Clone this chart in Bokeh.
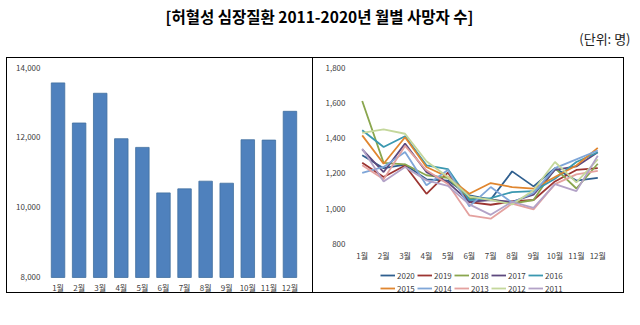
from bokeh.plotting import figure
from bokeh.layouts import column, row
from bokeh.models import Range1d, FixedTicker, NumeralTickFormatter, Legend, LegendItem
from bokeh.core.properties import value
from bokeh.embed import file_html
from bokeh.resources import INLINE

FONT = "Noto Sans CJK KR"

title = "[허혈성 심장질환 2011-2020년 월별 사망자 수]"
unit = "(단위: 명)"

months = ["1월", "2월", "3월", "4월", "5월", "6월", "7월", "8월", "9월", "10월", "11월", "12월"]

# 월별 합계 (2011-2020)
total = [13560, 12414, 13264, 11965, 11717, 10417, 10532, 10752, 10694, 11936, 11926, 12748]

years = ["2020", "2019", "2018", "2017", "2016", "2015", "2014", "2013", "2012", "2011"]
y2020 = [1303, 1230, 1250, 1167, 1160, 1076, 1053, 1212, 1127, 1230, 1160, 1175]
y2019 = [1261, 1180, 1245, 1085, 1205, 1038, 1023, 1042, 1050, 1155, 1220, 1230]
y2018 = [1610, 1260, 1252, 1190, 1175, 1060, 1055, 1030, 1050, 1230, 1115, 1255]
y2017 = [1337, 1208, 1369, 1208, 1150, 1040, 1050, 1040, 1080, 1220, 1240, 1320]
y2016 = [1445, 1350, 1411, 1246, 1225, 1050, 1060, 1095, 1100, 1170, 1265, 1320]
y2015 = [1416, 1255, 1405, 1237, 1180, 1085, 1146, 1123, 1114, 1180, 1245, 1345]
y2014 = [1203, 1237, 1322, 1133, 1220, 1014, 1123, 1035, 1090, 1230, 1280, 1330]
y2013 = [1246, 1167, 1356, 1218, 1140, 963, 944, 1030, 997, 1140, 1195, 1215]
y2012 = [1430, 1450, 1425, 1269, 1180, 1070, 1050, 1025, 1105, 1265, 1150, 1280]
y2011 = [1340, 1155, 1237, 1161, 1130, 1025, 966, 1040, 1005, 1140, 1100, 1300]
series = [y2020, y2019, y2018, y2017, y2016, y2015, y2014, y2013, y2012, y2011]
colors = ["#2F5F8F", "#9C3532", "#8AA64E", "#5E497E", "#3A98B0",
          "#E0862F", "#7FA6D8", "#E4A19F", "#C4D79B", "#B3A2C7"]

left_ticks = [8000, 10000, 12000, 14000]
right_ticks = [800, 1000, 1200, 1400, 1600, 1800]

# ---------- header ----------
header = figure(width=640, height=57, x_range=Range1d(0, 640), y_range=Range1d(57, 0),
                output_backend="svg", toolbar_location=None, min_border=0,
                x_axis_type=None, y_axis_type=None, outline_line_color=None)
header.text(x=[319], y=[15], text=[title], text_align="center", text_baseline="middle",
            text_font=value(FONT), text_font_size="15.5px", text_font_style="bold",
            text_color="black")
header.text(x=[630], y=[38], text=[unit], text_align="right", text_baseline="middle",
            text_font=value(FONT), text_font_size="13px", text_color="#222222")

def style_axes(p, xstand, ystand):
    for ax in (p.xaxis[0], p.yaxis[0]):
        ax.axis_line_color = None
        ax.major_tick_line_color = None
        ax.minor_tick_line_color = None
        ax.major_tick_out = 0
        ax.major_tick_in = 0
        ax.minor_tick_out = 0
        ax.minor_tick_in = 0
        ax.major_label_text_font = FONT
        ax.major_label_text_font_size = "8px"
        ax.major_label_text_color = "#404040"
    p.xaxis[0].major_label_standoff = xstand
    p.yaxis[0].major_label_standoff = ystand
    p.xgrid.visible = False
    p.ygrid.visible = False

# ---------- left: bar chart ----------
left = figure(width=307, height=236, x_range=months, y_range=Range1d(7514, 14000),
              output_backend="svg", toolbar_location=None,
              min_border_left=40, min_border_right=14, min_border_top=9, min_border_bottom=0,
              outline_line_color=None)
left.vbar(x=months, top=total, bottom=left_ticks[0], width=0.64,
          fill_color="#4F81BD", line_color="#41709F", line_width=0.8)
style_axes(left, 5, 7)
left.xaxis[0].fixed_location = left_ticks[0]
left.yaxis[0].ticker = FixedTicker(ticks=left_ticks)
left.yaxis[0].formatter = NumeralTickFormatter(format="0,0")
left.styles = {"border": "1px solid #000000"}

# ---------- right: line chart ----------
right = figure(width=311, height=236, x_range=months, y_range=Range1d(515, 1800),
               output_backend="svg", toolbar_location=None,
               min_border_left=38, min_border_right=16, min_border_top=9, min_border_bottom=0,
               outline_line_color=None)
items = []
for yr, vals, c in zip(years, series, colors):
    r = right.line(x=months, y=vals, line_color=c, line_width=1.8)
    items.append(LegendItem(label=yr, renderers=[r]))
style_axes(right, 6, 6)
right.xaxis[0].fixed_location = right_ticks[0]
right.yaxis[0].ticker = FixedTicker(ticks=right_ticks)
right.yaxis[0].formatter = NumeralTickFormatter(format="0,0")

for k, dy in ((0, 12), (5, -1)):
    lg = Legend(items=items[k:k + 5], location=(29, dy), orientation="horizontal",
                glyph_width=15, glyph_height=14, label_height=14, label_standoff=2,
                spacing=0, padding=0, margin=0, border_line_color=None,
                background_fill_alpha=0, label_text_font=FONT,
                label_text_font_size="8px", label_text_color="#404040")
    right.add_layout(lg)
right.styles = {"border-top": "1px solid #000000", "border-right": "1px solid #000000",
                "border-bottom": "1px solid #000000"}

layout = column(header, row(column(left, margin=(0, 0, 0, 6)), column(right)))
open("out.html", "w").write(file_html(layout, INLINE))
